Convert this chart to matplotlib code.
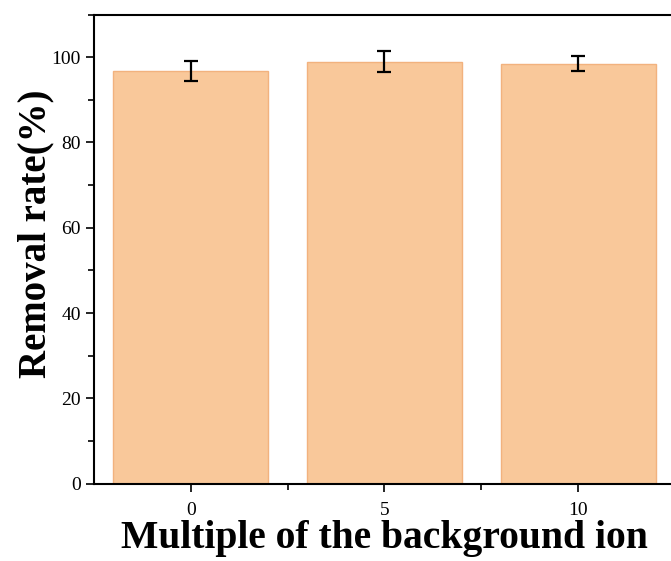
import numpy as np
import matplotlib.pyplot as plt
from matplotlib.ticker import MultipleLocator, FixedLocator

plt.rcParams['font.family'] = ['Liberation Serif', 'DejaVu Serif']

categories = ['0', '5', '10']
removal_rate = [96.7, 98.9, 98.5]
removal_err = [2.35, 2.45, 1.8]

fig = plt.figure(figsize=(6.71, 5.61), dpi=100)
ax = fig.add_axes([0.140, 0.138, 0.866, 0.836])

x = np.arange(len(categories))
ax.bar(x, removal_rate, width=0.8, color='#F9C89A', edgecolor='#F2B27E', linewidth=1.0, zorder=2)
ax.errorbar(x, removal_rate, yerr=removal_err, fmt='none', ecolor='black',
            elinewidth=1.6, capsize=5, capthick=1.6, zorder=3)

ax.set_xlim(-0.5, 2.5)
ax.set_ylim(0, 110)
ax.set_xticks(x)
ax.set_xticklabels(categories)
ax.xaxis.set_minor_locator(FixedLocator([0.5, 1.5]))
ax.yaxis.set_major_locator(MultipleLocator(20))
ax.yaxis.set_minor_locator(MultipleLocator(10))

ax.tick_params(axis='both', which='major', direction='out', length=6, width=1.2, labelsize=14)
ax.tick_params(axis='x', which='major', pad=7)
ax.tick_params(axis='both', which='minor', direction='out', length=4, width=1.2)
for s in ax.spines.values():
    s.set_linewidth(1.5)
ax.spines['right'].set_visible(False)

ax.set_xlabel('Multiple of the background ion', fontsize=28.5, fontweight='bold', labelpad=1)
ax.set_ylabel('Removal rate(%)', fontsize=28, fontweight='bold')
# label sits a bit above the axes centre in the original
ax.yaxis.set_label_coords(-0.068, 0.532)

fig.savefig('out.png', dpi=100)
